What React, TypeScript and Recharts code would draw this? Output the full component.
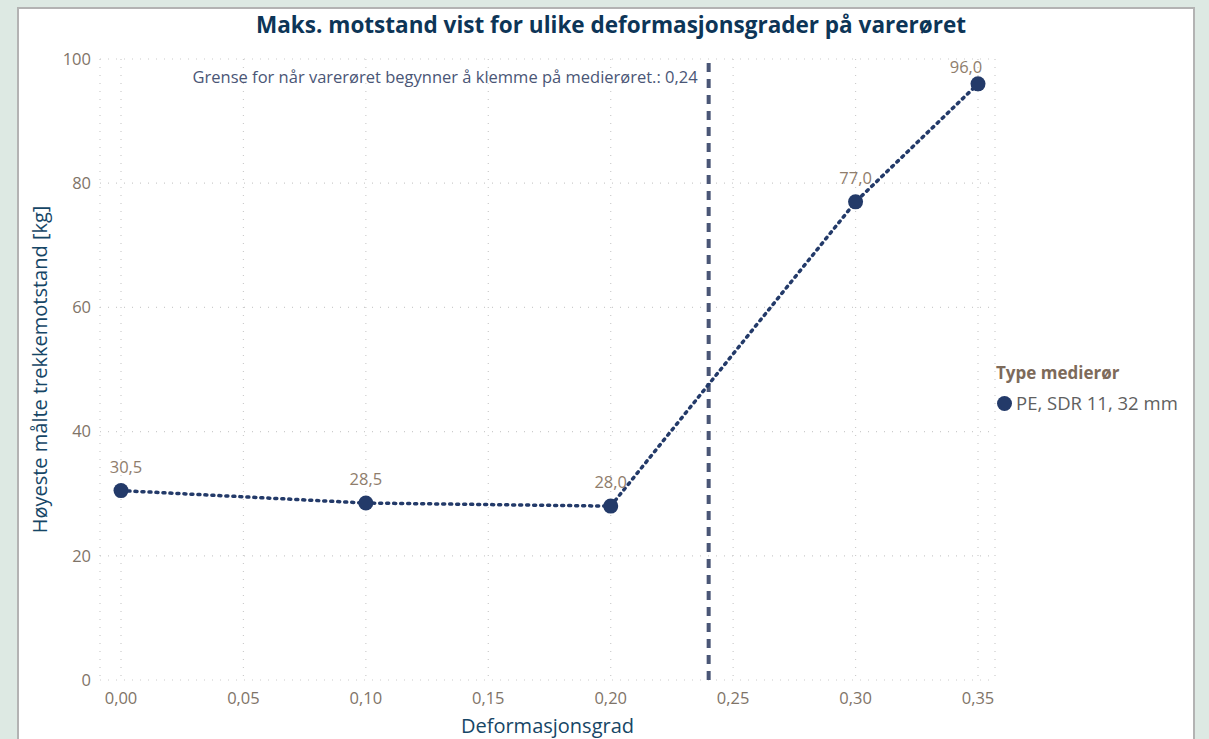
import React from "react";
import {
  LineChart,
  Line,
  XAxis,
  YAxis,
  CartesianGrid,
  ReferenceLine,
  LabelList,
  Legend,
} from "recharts";

const deformation = [0, 0.1, 0.2, 0.3, 0.35];
const resistance = [30.5, 28.5, 28.0, 77.0, 96.0];
const xTicks = [0, 0.05, 0.1, 0.15, 0.2, 0.25, 0.3, 0.35];
const yTicks = [0, 20, 40, 60, 80, 100];
const thresholdValue = 0.24;
const seriesName = "PE, SDR 11, 32 mm";
const legendTitle = "Type medierør";
const chartTitle = "Maks. motstand vist for ulike deformasjonsgrader på varerøret";
const xTitle = "Deformasjonsgrad";
const yTitle = "Høyeste målte trekkemotstand [kg]";
const thresholdLabel = "Grense for når varerøret begynner å klemme på medierøret.: ";

const data = deformation.map((d, i) => ({ x: d, y: resistance[i] }));

const FONT = "'Open Sans', 'Noto Sans', sans-serif";
const NAVY = "#233a69";
const LABEL_BROWN = "#8f7d6c";
const TICK = "#7f7468";

const fmtComma = (v: number, digits: number) => v.toFixed(digits).replace(".", ",");

const PointLabel = (props: any) => {
  const { x, y, value } = props;
  const lx = Math.min(Math.max(x, 126), 966);
  const ly = Math.max(y - 18, 73);
  return (
    <text
      x={lx}
      y={ly}
      textAnchor="middle"
      fill={LABEL_BROWN}
      fontSize={16.5}
      fontFamily={FONT}
    >
      {fmtComma(value, 1)}
    </text>
  );
};

const RefLabel = (props: any) => {
  const vb = props.viewBox || {};
  return (
    <text
      x={vb.x - 11}
      y={83}
      textAnchor="end"
      fill="#4a5676"
      fontSize={16.5}
      fontFamily={FONT}
    >
      {thresholdLabel + fmtComma(thresholdValue, 2)}
    </text>
  );
};

const LegendContent = () => (
  <div style={{ fontFamily: FONT }}>
    <div style={{ color: "#7d6a5a", fontWeight: 700, fontSize: 17, lineHeight: "22px", marginBottom: 8 }}>
      {legendTitle}
    </div>
    <div style={{ display: "flex", alignItems: "center", color: "#5f5f5f", fontSize: 18.5, lineHeight: "22px" }}>
      <span
        style={{
          display: "inline-block",
          width: 15,
          height: 15,
          borderRadius: 8,
          background: NAVY,
          marginLeft: 1,
          marginRight: 4,
        }}
      />
      {seriesName}
    </div>
  </div>
);

export default function App() {
  return (
    <div
      style={{
        position: "fixed",
        left: 0,
        top: 0,
        width: 1209,
        height: 739,
        background: "#dde9e3",
        overflow: "hidden",
      }}
    >
      <div
        style={{
          position: "absolute",
          left: 17,
          top: 7,
          width: 1178,
          height: 760,
          background: "#ffffff",
          border: "2px solid #b3b3b3",
          boxSizing: "border-box",
        }}
      />
      <svg
        style={{ position: "absolute", left: 0, top: 0 }}
        width={1209}
        height={50}
      >
        <text
          x={611}
          y={33}
          textAnchor="middle"
          fontFamily={FONT}
          fontWeight={700}
          fontSize={24}
          fill="#0d3557"
          textLength={710}
          lengthAdjust="spacingAndGlyphs"
        >
          {chartTitle}
        </text>
      </svg>
      <div style={{ position: "absolute", left: 0, top: 0 }}>
        <LineChart
          width={1209}
          height={739}
          data={data}
          margin={{ top: 59, right: 214, bottom: 29, left: 0 }}
        >
          <CartesianGrid
            stroke="#cccccc"
            strokeDasharray="1 7"
            strokeWidth={1.2}
          />
          <XAxis
            dataKey="x"
            type="number"
            domain={[0, 0.35]}
            ticks={xTicks}
            tickFormatter={(v: number) => fmtComma(v, 2)}
            padding={{ left: 21, right: 17 }}
            height={30}
            axisLine={false}
            tickLine={false}
            tickSize={0}
            tickMargin={12}
            tick={{ fill: TICK, fontSize: 16.5, fontFamily: FONT }}
            label={{
              value: xTitle,
              position: "insideBottom",
              offset: -23,
              fill: "#164666",
              fontSize: 20,
              fontFamily: FONT,
            }}
          />
          <YAxis
            type="number"
            domain={[0, 100]}
            ticks={yTicks}
            width={100}
            axisLine={false}
            tickLine={false}
            tickSize={0}
            tickMargin={9}
            tick={{ fill: TICK, fontSize: 16.5, fontFamily: FONT }}
            label={{
              value: yTitle,
              angle: -90,
              position: "insideLeft",
              offset: 0,
              dx: 40,
              fill: "#164666",
              fontSize: 20,
              fontFamily: FONT,
              style: { textAnchor: "middle" },
            }}
          />
          <ReferenceLine
            x={thresholdValue}
            stroke="#4a5676"
            strokeWidth={4}
            strokeDasharray="9 7"
            label={<RefLabel />}
          />
          <Legend
            layout="vertical"
            align="center"
            verticalAlign="middle"
            wrapperStyle={{ left: 996, top: 362, width: 200 }}
            content={<LegendContent />}
          />
          <Line
            type="linear"
            dataKey="y"
            name={seriesName}
            stroke={NAVY}
            strokeWidth={3.5}
            strokeDasharray="2 5"
            strokeLinecap="round"
            dot={{ r: 7.5, fill: NAVY, stroke: NAVY, strokeWidth: 0 }}
            activeDot={false}
            isAnimationActive={false}
          >
            <LabelList dataKey="y" content={<PointLabel />} />
          </Line>
        </LineChart>
      </div>
    </div>
  );
}
